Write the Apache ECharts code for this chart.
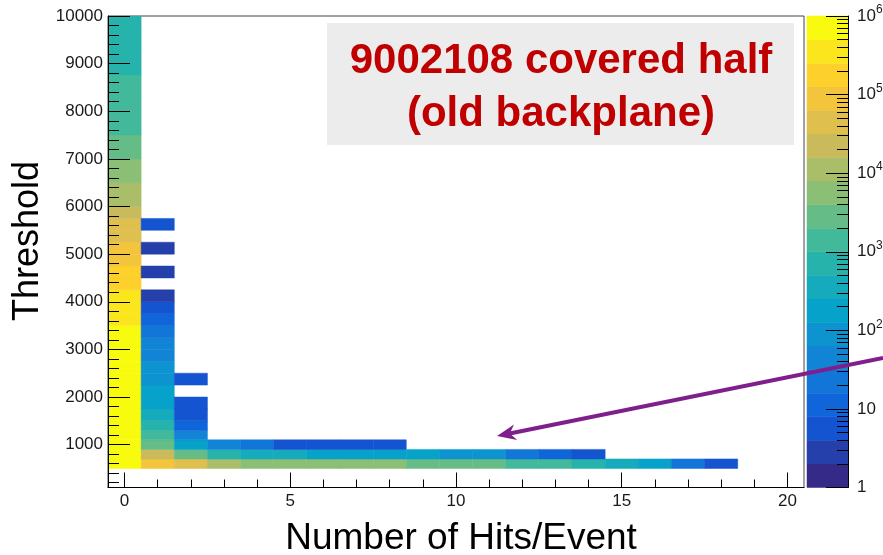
<!DOCTYPE html>
<html>
<head>
<meta charset="utf-8">
<script src="https://cdn.jsdelivr.net/npm/echarts@6/dist/echarts.min.js"></script>
<style>
  html, body { margin: 0; padding: 0; background: #ffffff; }
  #chart { width: 883px; height: 555px; }
</style>
</head>
<body>
<div id="chart"></div>
<script>
// Threshold bin edges (row boundaries of the 2D histogram)
const thresholdEdges = [500, 700, 900, 1100, 1300, 1500, 1750, 2000, 2250, 2500, 2750, 3000,
  3250, 3500, 3750, 4000, 4250, 4500, 4750, 5000, 5250, 5500, 5750, 6000, 6500, 7000, 7500, 8750, 10000];

// Entries per threshold row (bottom to top) for 0, 1 and 2 hits/event; null = empty bin
const zeroHits = [640000, 700000, 760000, 810000, 850000, 880000, 900000, 910000, 890000, 860000,
  800000, 720000, 610000, 470000, 440000, 400000, 235000, 205000, 118000, 104000,
  60000, 52000, 27000, 13000, 6800, 3300, 1700, 880];
const oneHit = [96000, 23000, 3100, 1300, 640, 380, 220, 165, 112, 78, 54, 38, 23, 11, 5, 3,
  null, 2, null, 2, null, 4, null, null, null, null, null, null];
const twoHits = [50000, 2500, 170, 42, 10, 6, 5, null, 5, null, null, null, null, null, null, null,
  null, null, null, null, null, null, null, null, null, null, null, null];

// Hits/event 3..18 only populate the three lowest threshold rows
const multiHits = [3, 4, 5, 6, 7, 8, 9, 10, 11, 12, 13, 14, 15, 16, 17, 18];
const row500 = [9800, 7300, 6500, 5800, 5100, 4300, 3500, 2900, 2300, 1700, 1200, 720, 420, 210, 21, 5];
const row700 = [820, 470, 380, 240, 200, 165, 140, 105, 80, 25, 10, 5, null, null, null, null];
const row900 = [48, 26, 6, 5, 5, 5, null, null, null, null, null, null, null, null, null, null];

// Axis ticks
const thresholdTicks = [1000, 2000, 3000, 4000, 5000, 6000, 7000, 8000, 9000, 10000];
const hitTicks = [0, 5, 10, 15, 20];
const zDecades = [0, 1, 2, 3, 4, 5, 6];   // log10 of colour-scale labels 1 .. 10^6

const FONT = 'Liberation Sans, Arial, Helvetica, sans-serif';
const INK = '#1a1a1a';

// ---- cells: [hits, yLow, yHigh, log10(count), count]
const cells = [];
function addCell(hits, row, count) {
  if (count == null) return;
  cells.push([hits, thresholdEdges[row], thresholdEdges[row + 1], Math.log10(count), count]);
}
zeroHits.forEach((c, r) => addCell(0, r, c));
oneHit.forEach((c, r) => addCell(1, r, c));
twoHits.forEach((c, r) => addCell(2, r, c));
multiHits.forEach((h, i) => {
  addCell(h, 0, row500[i]);
  addCell(h, 1, row700[i]);
  addCell(h, 2, row900[i]);
});

// ---- "bird" palette sampled into 20 discrete contour levels (log scale 1..10^6)
const birdStops = [
  [0.2082, 0.1664, 0.5293], [0.0592, 0.3599, 0.8684], [0.0780, 0.5041, 0.8385],
  [0.0232, 0.6419, 0.7914], [0.1802, 0.7178, 0.6425], [0.5301, 0.7492, 0.4662],
  [0.8186, 0.7328, 0.3499], [0.9956, 0.7862, 0.1968], [0.9764, 0.9832, 0.0539]
];
function bird(t) {
  const p = t * (birdStops.length - 1);
  const i = Math.min(Math.floor(p), birdStops.length - 2);
  const f = p - i;
  const c = birdStops[i].map((v, j) => Math.round(255 * (v + (birdStops[i + 1][j] - v) * f)));
  return 'rgb(' + c.join(',') + ')';
}
const nLevels = 20, zMax = 6, zStep = zMax / nLevels;
const pieces = [];
const bands = [];
for (let k = 0; k < nLevels; k++) {
  const lo = k * zStep, hi = (k + 1) * zStep;
  const piece = { gte: lo, color: bird(k / (nLevels - 1)) };
  if (k === nLevels - 1) piece.lte = zMax + 1; else piece.lt = hi;
  pieces.push(piece);
  bands.push([0, lo, hi, lo + zStep / 2]);
}

// ---- minor tick positions
const thresholdMinor = [];
for (let v = 200; v <= 10000; v += 200) thresholdMinor.push(v);
const hitMinor = [];
for (let v = 0; v <= 20; v++) hitMinor.push(v);
const zMinor = [];
for (let d = 0; d < 6; d++) for (let m = 2; m <= 9; m++) zMinor.push(Math.log10(m) + d);

function cellRect(params, api) {
  const x = api.value(0);
  const a = api.coord([x - 0.5, api.value(2)]);
  const b = api.coord([x + 0.5, api.value(1)]);
  const col = api.visual('color');
  return {
    type: 'rect',
    shape: { x: a[0], y: a[1], width: b[0] - a[0], height: b[1] - a[1] },
    style: { fill: col, stroke: col, lineWidth: 0.5 }
  };
}
function bandRect(params, api) {
  const a = api.coord([0, api.value(2)]);
  const b = api.coord([1, api.value(1)]);
  const col = api.visual('color');
  return {
    type: 'rect',
    shape: { x: a[0], y: a[1], width: b[0] - a[0], height: b[1] - a[1] },
    style: { fill: col, stroke: col, lineWidth: 0.5 }
  };
}

const axisLine = () => ({ show: true, onZero: false, lineStyle: { color: '#000', width: 1 } });
const noLine = () => ({ show: false, onZero: false });
const tickStyle = () => ({ color: '#000', width: 1 });

// ---- annotation arrow geometry
const arrowTail = [883, 358], arrowTip = [497, 436];
const dx = arrowTip[0] - arrowTail[0], dy = arrowTip[1] - arrowTail[1];
const len = Math.hypot(dx, dy), ux = dx / len, uy = dy / len;
const headLen = 19, headHalf = 8, notch = 13;
const head = [
  arrowTip,
  [arrowTip[0] - headLen * ux - headHalf * uy, arrowTip[1] - headLen * uy + headHalf * ux],
  [arrowTip[0] - notch * ux, arrowTip[1] - notch * uy],
  [arrowTip[0] - headLen * ux + headHalf * uy, arrowTip[1] - headLen * uy - headHalf * ux]
];
const ARROW = '#7f1f8b';

const chart = echarts.init(document.getElementById('chart'));
chart.setOption({
  animation: false,
  backgroundColor: '#ffffff',
  grid: [
    { left: 108, top: 16, width: 696, height: 471.5, show: true, borderColor: '#444', borderWidth: 1,
      backgroundColor: 'transparent', outerBoundsMode: 'none', containLabel: false },
    { left: 807, top: 16, width: 41, height: 471.5, outerBoundsMode: 'none', containLabel: false }
  ],
  xAxis: [
    { gridIndex: 0, type: 'value', min: -0.5, max: 20.5, position: 'bottom', z: 10,
      axisLine: axisLine(),
      axisTick: { show: true, inside: true, length: 15, customValues: hitTicks, lineStyle: tickStyle() },
      axisLabel: { show: true, customValues: hitTicks, margin: 5, fontSize: 17, color: INK, fontFamily: FONT },
      splitLine: { show: false } },
    { gridIndex: 0, type: 'value', min: -0.5, max: 20.5, position: 'bottom', z: 10,
      axisLine: noLine(),
      axisTick: { show: true, inside: true, length: 8, customValues: hitMinor, lineStyle: tickStyle() },
      axisLabel: { show: false }, splitLine: { show: false } },
    { gridIndex: 1, type: 'value', min: 0, max: 1, show: false,
      axisLine: noLine(), splitLine: { show: false } }
  ],
  yAxis: [
    { gridIndex: 0, type: 'value', min: 100, max: 10000, position: 'left', z: 10,
      axisLine: axisLine(),
      axisTick: { show: true, inside: true, length: 22, customValues: thresholdTicks, lineStyle: tickStyle() },
      axisLabel: { show: true, customValues: thresholdTicks, margin: 5, fontSize: 17, color: INK,
        fontFamily: FONT, formatter: v => String(v) },
      splitLine: { show: false } },
    { gridIndex: 0, type: 'value', min: 100, max: 10000, position: 'left', z: 10,
      axisLine: noLine(),
      axisTick: { show: true, inside: true, length: 11, customValues: thresholdMinor, lineStyle: tickStyle() },
      axisLabel: { show: false }, splitLine: { show: false } },
    { gridIndex: 1, type: 'value', min: 0, max: zMax, position: 'right', z: 10,
      axisLine: axisLine(),
      axisTick: { show: true, inside: true, length: 22, customValues: zDecades, lineStyle: tickStyle() },
      axisLabel: {
        show: true, customValues: zDecades, margin: 9,
        formatter: v => {
          const d = Math.round(v);
          if (d === 0) return '{b|1}';
          if (d === 1) return '{b|10}';
          return '{b|10}{s|' + d + '}';
        },
        rich: {
          b: { fontSize: 17, color: INK, fontFamily: FONT, lineHeight: 24 },
          s: { fontSize: 12, color: INK, fontFamily: FONT, lineHeight: 12, verticalAlign: 'top' }
        }
      },
      splitLine: { show: false } },
    { gridIndex: 1, type: 'value', min: 0, max: zMax, position: 'right', z: 10,
      axisLine: noLine(),
      axisTick: { show: true, inside: true, length: 11, customValues: zMinor, lineStyle: tickStyle() },
      axisLabel: { show: false }, splitLine: { show: false } }
  ],
  visualMap: {
    type: 'piecewise', show: false, dimension: 3, seriesIndex: [0, 1], pieces: pieces
  },
  series: [
    { type: 'custom', name: 'hits', xAxisIndex: 0, yAxisIndex: 0, clip: true,
      encode: { x: [0], y: [1, 2] }, renderItem: cellRect, data: cells },
    { type: 'custom', name: 'palette', xAxisIndex: 2, yAxisIndex: 2,
      encode: { x: [0], y: [1, 2] }, renderItem: bandRect, data: bands }
  ],
  graphic: [
    { type: 'rect', z: 50, shape: { x: 327, y: 23, width: 467, height: 122 },
      style: { fill: '#ececec' } },
    { type: 'text', z: 51, x: 561, y: 61,
      style: { text: '9002108 covered half', fill: '#c00000', font: 'bold 42px ' + FONT,
        align: 'center', verticalAlign: 'middle' } },
    { type: 'text', z: 51, x: 561, y: 114,
      style: { text: '(old backplane)', fill: '#c00000', font: 'bold 42px ' + FONT,
        align: 'center', verticalAlign: 'middle' } },
    { type: 'text', z: 51, x: 461, y: 539,
      style: { text: 'Number of Hits/Event', fill: '#000', font: '37px ' + FONT,
        align: 'center', verticalAlign: 'middle' } },
    { type: 'text', z: 51, x: 28, y: 241, rotation: Math.PI / 2,
      style: { text: 'Threshold', fill: '#000', font: '36px ' + FONT,
        align: 'center', verticalAlign: 'middle' } },
    { type: 'polyline', z: 60,
      shape: { points: [arrowTail, [arrowTip[0] - notch * ux, arrowTip[1] - notch * uy]] },
      style: { stroke: ARROW, lineWidth: 4 } },
    { type: 'polygon', z: 61, shape: { points: head },
      style: { fill: ARROW } }
  ]
});
</script>
</body>
</html>
